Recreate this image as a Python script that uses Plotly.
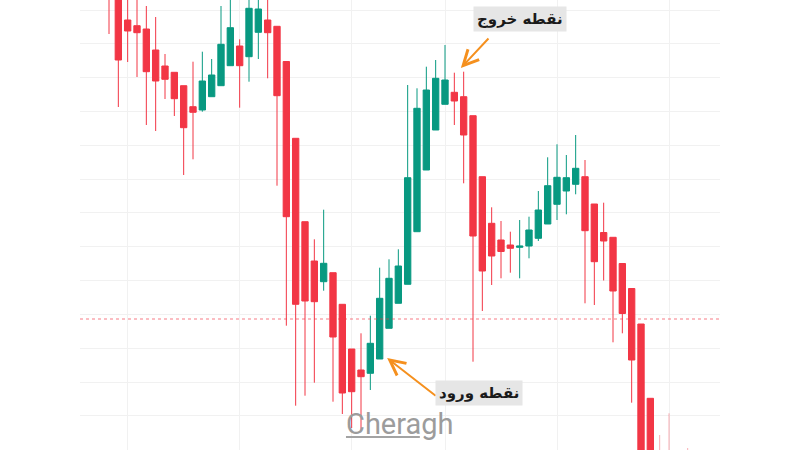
import plotly.graph_objects as go

# ---- data (price units) ----
idx = list(range(59))
opens = [490, 470, 430, 424.3, 421, 400, 384, 377.7, 364.3, 343.3,
         340, 353.3, 364.3, 384.3, 404, 393.3, 417.7, 430, 423.7, 388.5,
         311.7, 228.3, 189, 168.3, 177.3, 145.7, 101, 80, 76.7, 91,
         121.7, 146.7, 165.7, 218.3, 280, 320, 345.7, 357.7, 353.3, 334.3,
         273.3, 226.7, 210, 205, 202.7, 204, 211.7, 226, 245.7, 259,
         265.7, 273.3, 246, 217.5, 212.7, 186.5, 161.5, 126, 51.7]
highs = [510, 480, 460, 455, 444, 433, 396, 377.7, 364.3, 388.3,
         398.3, 391, 444, 460, 410.7, 465, 470, 465, 423.7, 388.5,
         311.7, 228.3, 210.7, 240.3, 177.3, 145.7, 101, 116.7, 134.3, 182.3,
         190.7, 200.7, 365, 361.7, 383.3, 390, 405, 377.3, 378.3, 334.3,
         273.3, 242.7, 229, 218.3, 230, 233.3, 259, 292.7, 305.7, 295,
         315, 290, 246, 247.3, 212.7, 186.5, 161.5, 126, 51.7]
lows = [416, 343, 388, 373, 325, 319, 351, 334, 275, 290.7,
        338.3, 353.3, 364.3, 384.3, 342.3, 368.3, 391, 371.7, 264.3, 124.3,
        44.3, 54.3, 67.3, 159.3, 48.3, 36, 22, 20, 60, 91,
        121.7, 146.7, 165.7, 218.3, 280, 320, 345.7, 325, 266.7, 88.3,
        139, 165, 171.7, 177.3, 171.7, 191.7, 209, 226, 230, 235.7,
        255.7, 146.7, 145, 169.5, 107.7, 116.7, 47.3, -50, -70]
closes = [452, 390, 419, 417.3, 378.3, 369, 370.7, 351.3, 322.3, 337.7,
          369, 375, 405.7, 422.3, 384.3, 441.7, 441, 417.3, 354.3, 233.3,
          145.7, 149, 148.3, 186.7, 113, 57, 58.3, 73.3, 106.7, 151.7,
          171.7, 184, 272.3, 341.7, 360, 371.7, 370, 349, 315, 214,
          179, 194, 198.5, 201.7, 204, 220, 240, 264.3, 272.7, 272.3,
          281.7, 219.3, 188.3, 209, 159, 136.5, 90, -30, -50]

# faded candles at the right edge
fade_idx = [59, 60, 61, 62]
fade_open = [-10, -15, -20, -15]
fade_high = [15, 36.7, -5, 2]
fade_low = [-60, -60, -60, -50]
fade_close = [-40, -45, -40, -30]

level_line = 131          # dotted horizontal price line
vgrid_idx = [2, 14, 26, 36, 48, 60]
exit_point = (37.7, 382)  # arrow tip (index, price)
entry_point = (29.8, 92)

RED = "#F23645"
GREEN = "#089981"

fig = go.Figure()
fig.add_trace(go.Candlestick(
    x=idx, open=opens, high=highs, low=lows, close=closes,
    increasing=dict(line=dict(color=GREEN, width=1), fillcolor=GREEN),
    decreasing=dict(line=dict(color=RED, width=1), fillcolor=RED),
    hoverinfo="skip", showlegend=False))
fig.add_trace(go.Candlestick(
    x=fade_idx, open=fade_open, high=fade_high, low=fade_low, close=fade_close,
    increasing=dict(line=dict(color="rgba(8,153,129,0.4)", width=1), fillcolor="rgba(8,153,129,0.4)"),
    decreasing=dict(line=dict(color="rgba(242,54,69,0.4)", width=1), fillcolor="rgba(242,54,69,0.4)"),
    hoverinfo="skip", showlegend=False))

fig.add_shape(type="line", xref="paper", x0=0, x1=1, yref="y", y0=level_line, y1=level_line,
              line=dict(color="rgba(242,54,69,0.65)", width=1, dash="dot"))

# watermark underline
fig.add_shape(type="line", xref="paper", yref="paper", x0=0.4156, x1=0.531, y0=0.029, y1=0.029,
              line=dict(color="#a3a3a3", width=2))

ORANGE = "#F5901E"
fig.add_annotation(x=exit_point[0], y=exit_point[1], xref="x", yref="y", text="",
                   showarrow=True, ax=29, ay=-31, arrowhead=5, arrowsize=1.5, arrowwidth=2,
                   arrowcolor=ORANGE, standoff=0)
fig.add_annotation(x=entry_point[0], y=entry_point[1], xref="x", yref="y", text="",
                   showarrow=True, ax=50, ay=39, arrowhead=5, arrowsize=1.5, arrowwidth=2,
                   arrowcolor=ORANGE, standoff=0)

fig.add_annotation(x=0.6875, y=0.9578, xref="paper", yref="paper", text="<b>نقطه خروج</b>",
                   xanchor="center", yanchor="middle",
                   showarrow=False, bgcolor="#e6e6e6", borderpad=3,
                   font=dict(family="DejaVu Sans", size=15, color="#1a1a1a"))
fig.add_annotation(x=0.6234, y=0.1267, xref="paper", yref="paper", text="<b>نقطه ورود</b>",
                   xanchor="center", yanchor="middle",
                   showarrow=False, bgcolor="#e6e6e6", borderpad=3,
                   font=dict(family="DejaVu Sans", size=15, color="#1a1a1a"))

fig.add_annotation(x=0.5, y=0.058, xref="paper", yref="paper", text="Cheragh",
                   xanchor="center", yanchor="middle",
                   showarrow=False, font=dict(family="Roboto", size=29, color="#9c9c9c"))

fig.update_layout(
    width=800, height=450, margin=dict(l=80, r=80, t=0, b=0),
    paper_bgcolor="white", plot_bgcolor="white",
    boxgap=0.32, boxgroupgap=0,
    xaxis=dict(range=[-3.107, 65.464], rangeslider=dict(visible=False),
               tickvals=vgrid_idx, showticklabels=False, showgrid=True,
               gridcolor="#f1f1f1", gridwidth=1, zeroline=False, showline=False),
    yaxis=dict(range=[0, 450], tick0=0.2, dtick=33.83, showticklabels=False,
               showgrid=True, gridcolor="#f1f1f1", gridwidth=1, zeroline=False, showline=False),
)

fig.write_html("out.html", config={"displayModeBar": False},
               post_script="document.body.style.margin='0';document.body.style.overflow='hidden';")
